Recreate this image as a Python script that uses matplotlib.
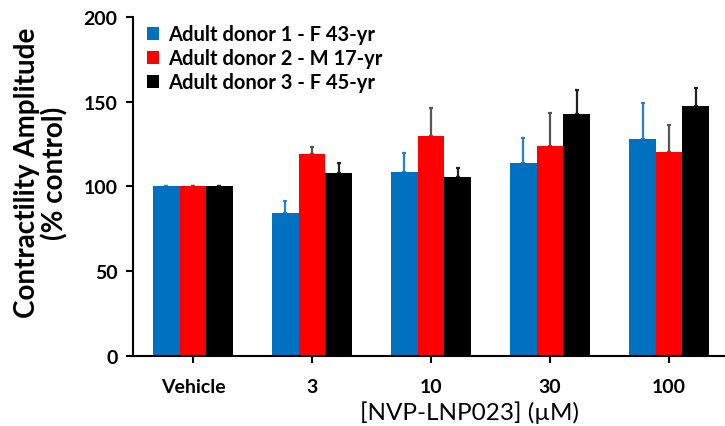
import numpy as np
import matplotlib
matplotlib.use("Agg")
import matplotlib.pyplot as plt

plt.rcParams["font.family"] = ["Lato", "DejaVu Sans"]

doses = ["Vehicle", "3", "10", "30", "100"]
donors = ["Adult donor 1 - F 43-yr", "Adult donor 2 - M 17-yr", "Adult donor 3 - F 45-yr"]

donor1 = [100, 84.0, 108.6, 113.9, 128.0]
donor2 = [100, 119.3, 129.9, 123.6, 120.5]
donor3 = [100, 108.0, 105.3, 142.9, 147.6]

donor1_err = [0.4, 7.1, 11.3, 14.8, 21.1]
donor2_err = [0.4, 4.1, 16.2, 19.7, 15.7]
donor3_err = [0.4, 5.6, 5.3, 14.0, 10.3]

colors = ["#0070C0", "#FF0000", "#000000"]
err_colors = ["#2A7FD0", "#555555", "#222222"]

fig = plt.figure(figsize=(7.25, 4.27), dpi=100)
ax = fig.add_axes([0.1834, 0.1651, 0.8166, 0.7925])

x = np.arange(len(doses))
w = 0.223
series = [donor1, donor2, donor3]
errs = [donor1_err, donor2_err, donor3_err]
for i in range(3):
    pos = x + (i - 1) * w
    ax.bar(pos, series[i], w, color=colors[i], label=donors[i], zorder=2)
    ax.errorbar(pos, series[i], yerr=[np.zeros(len(doses)), errs[i]],
                fmt="none", ecolor=err_colors[i], elinewidth=1.6,
                capsize=1.5, capthick=1.6, zorder=1)

ax.set_xlim(-0.504, 4.47)
ax.set_ylim(0, 200)
ax.set_yticks([0, 50, 100, 150, 200])
ax.set_xticks(x)
ax.set_xticklabels(doses)

for side in ["top", "right"]:
    ax.spines[side].set_visible(False)
for side in ["left", "bottom"]:
    ax.spines[side].set_linewidth(1.5)

ax.tick_params(axis="both", direction="out", length=5, width=1.5, labelsize=14, pad=6)
ax.tick_params(axis="x", pad=11)
for lab in ax.get_xticklabels() + ax.get_yticklabels():
    lab.set_fontweight("bold")

# axis titles placed in figure coordinates
fig.text(41 / 725, 1 - 173 / 427, "Contractility Amplitude\n(% control)", rotation=90,
         ha="center", va="center", multialignment="center", fontsize=20,
         fontweight="bold", linespacing=1.05)
fig.text(469 / 725, 1 - 413 / 427, "[NVP-LNP023] (\u00b5M)", ha="center", va="center",
         fontsize=17.5)

leg = ax.legend(loc="upper left", bbox_to_anchor=(0.0, 1.02), frameon=False,
                prop={"size": 14.5, "weight": "bold"}, handlelength=0.6, handleheight=0.6,
                handletextpad=0.45, labelspacing=0.2, borderaxespad=0.3)

fig.savefig("out.png", dpi=100)
